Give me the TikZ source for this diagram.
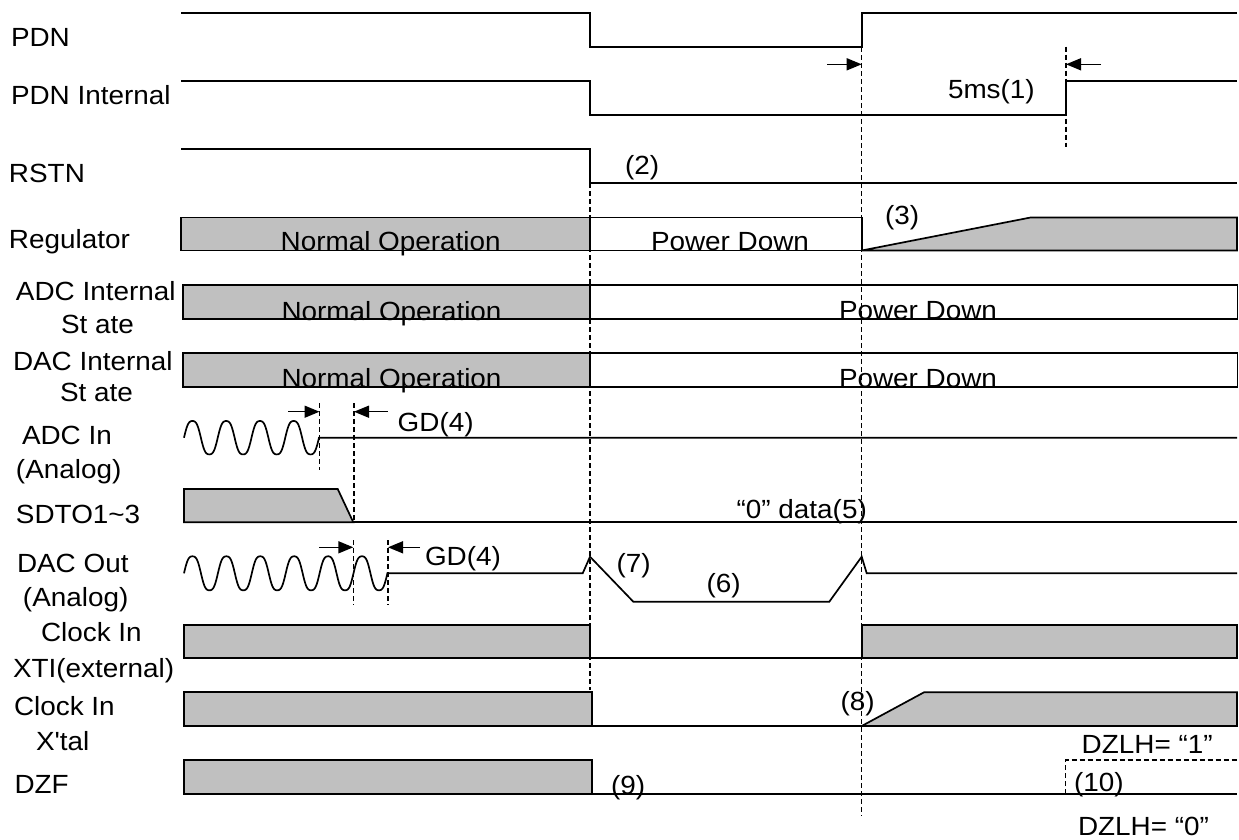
\documentclass[tikz,border=0pt]{standalone}
\usepackage{fontspec}
\setmainfont{Liberation Sans}[FakeStretch=1.06, Ligatures=TeXOff]
\usetikzlibrary{arrows.meta}
\definecolor{busgrey}{HTML}{C0C0C0}
\begin{document}
\begin{tikzpicture}[x=1pt,y=-1pt,
  wave/.style={line width=1.7pt, line join=miter},
  busfill/.style={wave, fill=busgrey},
  vdash/.style={line width=1.2pt, dash pattern=on 5pt off 3pt},
  lbl/.style={anchor=base west, inner sep=0pt, outer sep=0pt, font=\fontsize{26.3}{30}\selectfont},
  dimarrow/.style={line width=1.5pt, -{Triangle[length=15pt,width=12pt]}}]
\useasboundingbox (0,0) rectangle (1239,839);

% ---------- row labels ----------
\node[lbl] (lPDN) at (11,46.7) {PDN};
\node[lbl] (lPDNI) at (11,104.3) {PDN Internal};
\node[lbl] (lRSTN) at (9,182.7) {RSTN};
\node[lbl] (lREG) at (9,248.3) {Regulator};
\node[lbl] (lADC1) at (16,300.7) {ADC Internal};
\node[lbl] (lADC2) at (61,333.3) {St ate};
\node[lbl] (lDAC1) at (13,370.7) {DAC Internal};
\node[lbl] (lDAC2) at (60,401.7) {St ate};
\node[lbl] (lAIN1) at (22,444.3) {ADC In};
\node[lbl] (lAIN2) at (16,478.3) {(Analog)};
\node[lbl] (lSDTO) at (16,523.3) {SDTO1\textasciitilde 3};
\node[lbl] (lDOUT1) at (17,572.3) {DAC Out};
\node[lbl] (lDOUT2) at (23,606.7) {(Analog)};
\node[lbl] (lXTI1) at (41,641.7) {Clock In};
\node[lbl] (lXTI2) at (13,677.3) {XTI(external)};
\node[lbl] (lXT1) at (14,715) {Clock In};
\node[lbl] (lXT2) at (36,750) {X'tal};
\node[lbl] (lDZF) at (14.5,793.3) {DZF};

% ---------- dashed guide lines ----------
\coordinate (g1t) at (590,183);    \coordinate (g1b) at (590,690);
\coordinate (g2t) at (861.7,47.3); \coordinate (g2b) at (861.7,815.7);
\coordinate (g3t) at (1066,46.7);  \coordinate (g3b) at (1066,146.7);
\coordinate (g4t) at (319.5,403);  \coordinate (g4b) at (319.5,470);
\coordinate (g5t) at (354,403);    \coordinate (g5b) at (354,522.3);
\coordinate (g6t) at (353.3,540);  \coordinate (g6b) at (353.3,605);
\coordinate (g7t) at (388,540);    \coordinate (g7b) at (388,605);
\foreach \a/\b in {g1t/g1b,g2t/g2b,g3t/g3b,g4t/g4b,g5t/g5b,g6t/g6b,g7t/g7b}
  \draw[vdash] (\a) -- (\b);

% ---------- PDN ----------
\draw[wave] (181,13.3) -- (590,13.3) -- (590,47.3) -- (861.7,47.3) -- (861.7,13.3) -- (1237,13.3);
% ---------- PDN Internal ----------
\draw[wave] (181,81) -- (590,81) -- (590,115.3) -- (1066,115.3) -- (1066,81) -- (1237,81);
% ---------- RSTN ----------
\draw[wave] (181,149) -- (590,149) -- (590,183) -- (1237,183);
% ---------- Regulator ----------
\draw[busfill] (181,217.5) rectangle (590,250.5);
\draw[wave] (590,217.5) -- (861.7,217.5) -- (861.7,250.5) -- (590,250.5);
\draw[busfill] (861.7,250.5) -- (1030.6,217.5) -- (1237,217.5) -- (1237,250.5) -- cycle;
% ---------- ADC / DAC internal ----------
\draw[busfill] (183,285) rectangle (590,319);
\draw[wave] (590,285) rectangle (1237.5,319);
\draw[busfill] (183,353.3) rectangle (590,386.7);
\draw[wave] (590,353.3) rectangle (1237.5,386.7);
% ---------- ADC In ----------
\draw[wave] plot[domain=0:135, samples=160, smooth]
  ({184+\x},{437.7-16.7*(sin(\x/33.75*360)+0.08*sin(3*\x/33.75*360))/0.92})
  -- (1237,437.7);
% ---------- SDTO ----------
\draw[busfill] (184,489) -- (337.7,489) -- (353.3,522.3) -- (184,522.3) -- cycle;
\draw[wave] (353.3,522.3) -- (1237,522.3);
% ---------- DAC Out ----------
\draw[wave] plot[domain=0:203.4, samples=240, smooth]
  ({184+\x},{573.3-17*(sin(\x/33.9*360)+0.08*sin(3*\x/33.9*360))/0.92})
  -- (582.7,573.3) -- (590,556.7) -- (633.3,601.7) -- (829.3,601.7) -- (861.7,556.7) -- (866.7,573.3) -- (1237,573.3);
% ---------- Clock In XTI ----------
\draw[busfill] (184,625) rectangle (590,658.3);
\draw[wave] (590,658.3) -- (861.7,658.3);
\draw[busfill] (861.7,625) rectangle (1237,658.3);
% ---------- Clock In X'tal ----------
\draw[busfill] (184,692.3) rectangle (591.7,726);
\draw[wave] (591.7,726) -- (861.7,726);
\draw[busfill] (861.7,726) -- (924,692.3) -- (1237,692.3) -- (1237,726) -- cycle;
% ---------- DZF ----------
\draw[busfill] (184,760) rectangle (591.7,794);
\draw[wave] (591.7,794) -- (1237,794);
\draw[vdash] (1065.7,794) -- (1065.7,760) -- (1237,760);

% ---------- dimension arrows ----------
\coordinate (a1s) at (827,64.3);    \coordinate (a1e) at (861.7,64.3);
\coordinate (a2s) at (1101,64.3);   \coordinate (a2e) at (1066,64.3);
\coordinate (a3s) at (288,411.7);   \coordinate (a3e) at (319.5,411.7);
\coordinate (a4s) at (387.5,411.7); \coordinate (a4e) at (354,411.7);
\coordinate (a5s) at (319,547.3);   \coordinate (a5e) at (353.3,547.3);
\coordinate (a6s) at (420,547.3);   \coordinate (a6e) at (388,547.3);
\foreach \a/\b in {a1s/a1e,a2s/a2e,a3s/a3e,a4s/a4e,a5s/a5e,a6s/a6e}
  \draw[dimarrow] (\a) -- (\b);

% ---------- inner texts ----------
\node[lbl] (tNO1) at (280.7,250) {Normal Operation};
\node[lbl] (tPD1) at (651,250) {Power Down};
\node[lbl] (tNO2) at (281.5,320) {Normal Operation};
\node[lbl] (tPD2) at (839,319) {Power Down};
\node[lbl] (tNO3) at (281.5,387) {Normal Operation};
\node[lbl] (tPD3) at (839,387) {Power Down};
\node[lbl] (t5ms) at (948,98.3) {5ms(1)};
\node[lbl] (t2) at (625,174) {(2)};
\node[lbl] (t3) at (885,224) {(3)};
\node[lbl] (tGD1) at (397.7,431.5) {GD(4)};
\node[lbl] (tGD2) at (425,565) {GD(4)};
\node[lbl] (t5) at (736.7,518.5) {“0” data(5)};
\node[lbl] (t7) at (616.7,572) {(7)};
\node[lbl] (t6) at (706.7,592) {(6)};
\node[lbl] (t8) at (840.7,710.7) {(8)};
\node[lbl] (t9) at (611,794) {(9)};
\node[lbl] (t10) at (1074,791) {(10)};
\node[lbl] (tDZ1) at (1081.7,753.3) {DZLH= “1”};
\node[lbl] (tDZ0) at (1078,835) {DZLH= “0”};
\end{tikzpicture}
\end{document}
